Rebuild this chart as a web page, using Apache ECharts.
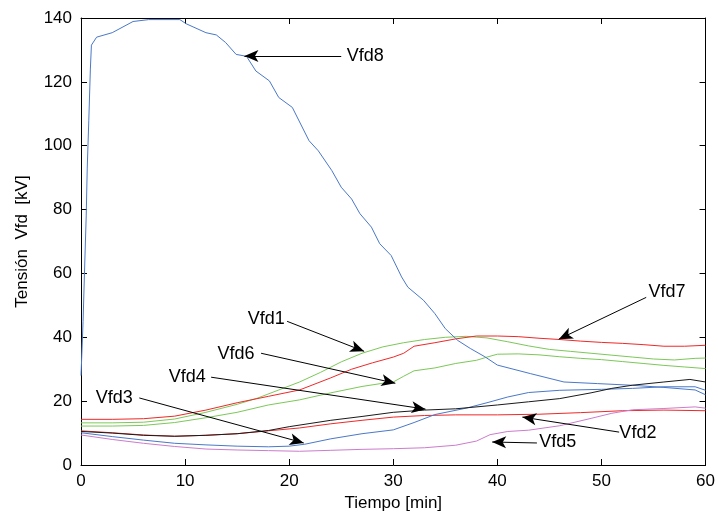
<!DOCTYPE html>
<html><head><meta charset="utf-8">
<script src="https://cdn.jsdelivr.net/npm/echarts@6/dist/echarts.min.js"></script>
<style>html,body{margin:0;padding:0;background:#fff}#c{width:718px;height:519px}</style>
</head><body><div id="c"></div>
<script>
// ---- data (time in min, tension in kV) ----
const xName = 'Tiempo [min]';
const yName = 'Tensión  Vfd  [kV]';

const tVfd1 = [0,3,6,9,12,15,17,19,21,23,25,27,29,31,33,35,37,39,41,43,45,47,49,51,53,55,57,59,60];
const vVfd1 = [13.2,13.2,13.4,14.4,16.5,19,21,23.5,26,29,32.3,35,37,38.3,39.3,40,40.3,39.8,38.6,37.3,36.2,35.6,35,34.4,33.8,33.2,32.9,33.4,33.5];

const tVfd2 = [0,3,6,9,12,15,18,21,24,27,30,33,36,40,44,48,52,56,60];
const vVfd2 = [10.7,10.1,9.4,9.0,9.3,9.8,10.7,11.6,12.9,14,15,15.5,15.7,15.7,15.9,16.4,17,17.2,17];

const tVfd3 = [0,3,6,9,12,15,18,20,21.5,24,27,30,32,34,37,39,41,43,46,50,53,56,59,60];
const vVfd3 = [10.1,8.9,7.8,6.8,6.3,5.9,5.7,5.9,6.5,8.2,9.8,11,13.3,15.8,17.8,19.5,21.3,22.7,23.4,23.7,24,24.5,24.5,23.4];

const tVfd4 = [0,3,6,9,12,15,18,20,22,24,27,30,33,36,40,43,46,49,51,53,56,58.5,60];
const vVfd4 = [10.5,10,9.3,9.0,9.3,9.8,10.8,12,13,14,15.2,16.5,17.2,17.6,18.8,19.8,20.8,22.6,24,25,26,26.8,26];

const tVfd5 = [0,3,6,9,12,15,18,21,24,27,30,33,36,38,39.3,41,43,46,49,51,53,56,59,60];
const vVfd5 = [9.4,8,6.8,5.8,5,4.7,4.5,4.3,4.6,4.9,5.1,5.4,6.2,7.5,9.5,10.5,10.9,12.3,14.6,16.2,17.3,17.7,18.2,17.8];

const tVfd6 = [0,3,6,9,12,15,18,21,24,27,29,30,31,32,34,36,38,39,40,42,44,46,48,50,52,54,56,58,60];
const vVfd6 = [12.2,12.2,12.4,13.3,14.8,16.5,18.8,20.4,22.6,24.6,25.6,26,27.8,29.5,30.4,31.8,32.8,33.8,34.7,34.8,34.5,33.9,33.4,33,32.4,31.8,31.2,30.7,30.2];

const tVfd7 = [0,3,6,9,12,15,18,21,24,26,28,30,31,32,34,36,38,40,42,44,46,48,50,52,54,56,58,60];
const vVfd7 = [14.3,14.3,14.5,15.3,17.2,19.5,21.5,23.5,27.3,30,32,33.8,35,37.2,38.3,39.5,40.4,40.4,40.2,39.7,39.3,38.8,38.4,38.1,37.7,37.2,37.2,37.5];

const tVfd8 = [0,0.2,0.35,0.5,0.6,0.75,0.9,1,1.5,3,5,6.5,9.5,10.1,12,13,13.9,14.9,15.9,16.8,18.1,19,20.3,21.9,22.8,24.1,25,26,26.8,27.9,28.7,29.8,30.8,31.4,32.9,34,35,36.2,37.4,38.8,40,43.2,46.4,49.6,52.8,56,59,60];
const vVfd8 = [28,45,62,78,93,108,124,131.5,134,135.4,138.9,139.5,139.5,138.2,135.4,134.7,132.3,128.6,128,123.4,120.3,115.1,112,101.6,98.4,92.2,87,83.3,78.7,74.5,69.3,65.6,58.9,55.7,51.6,47.4,42.7,39,36.5,33.9,31.3,28.6,26,25.5,25,24.3,23.5,22];

// annotation text anchors and arrows (start -> tip), in data units
const annotNames  = ['Vfd1','Vfd2','Vfd3','Vfd4','Vfd5','Vfd6','Vfd7','Vfd8'];
const annotText   = [[17.8,45.6],[53.5,10],[3.2,20.9],[10.2,27.5],[45.8,7.2],[14.9,34.7],[56.3,54.1],[27.3,128.1]];
const arrowStart  = [[19.8,45],[51.7,10.3],[5.6,21],[12.5,27.5],[43.8,6.9],[17.3,35],[54.3,52.5],[25,128.1]];
const arrowTip    = [[27.2,35.6],[42.4,15],[21.4,6.9],[33.1,17.5],[39.5,7.2],[30.2,25.6],[45.9,39.4],[15.7,128.1]];

const seriesT = [tVfd1,tVfd2,tVfd3,tVfd4,tVfd5,tVfd6,tVfd7,tVfd8];
const seriesV = [vVfd1,vVfd2,vVfd3,vVfd4,vVfd5,vVfd6,vVfd7,vVfd8];
const seriesColors = ['#7cc858','#f02828','#4a78c8','#1a1a1a','#cc7ccc','#7cc858','#f02828','#4a78c8'];

const FONT = '"Liberation Sans", Arial, sans-serif';

const series = annotNames.map((nm, i) => ({
  name: nm,
  type: 'line',
  data: seriesT[i].map((t, k) => [t, seriesV[i][k]]),
  showSymbol: false,
  symbol: 'none',
  lineStyle: { color: seriesColors[i], width: 1 },
  itemStyle: { color: seriesColors[i] },
  z: i === 3 ? 3 : 2,
  markLine: {
    silent: true,
    symbol: ['none', 'arrow'],
    symbolSize: [9, 14],
    lineStyle: { color: '#000', width: 1, type: 'solid' },
    label: { show: false },
    data: [[{ coord: arrowStart[i] }, { coord: arrowTip[i] }]]
  },
  markPoint: {
    silent: true,
    symbol: 'circle',
    symbolSize: 0,
    itemStyle: { color: 'rgba(0,0,0,0)' },
    label: { show: true, position: 'inside', formatter: nm, color: '#000', fontSize: 18, fontFamily: FONT },
    data: [{ coord: annotText[i] }]
  }
}));

const chart = echarts.init(document.getElementById('c'), null, { renderer: 'canvas' });
chart.setOption({
  animation: false,
  backgroundColor: '#fff',
  grid: { left: 81, right: 9, top: 18, bottom: 54 },
  xAxis: [{
    type: 'value', min: 0, max: 60, interval: 10,
    name: xName, nameLocation: 'middle', nameGap: 25,
    nameTextStyle: { color: '#000', fontSize: 17, fontFamily: FONT },
    axisLine: { show: true, lineStyle: { color: '#000', width: 1 } },
    axisTick: { show: true, inside: true, length: 6, lineStyle: { color: '#000' } },
    axisLabel: { color: '#000', fontSize: 17, fontFamily: FONT, margin: 8 },
    splitLine: { show: false }
  }, {
    type: 'value', min: 0, max: 60, interval: 10, position: 'top',
    axisLine: { show: true, onZero: false, lineStyle: { color: '#000', width: 1 } },
    axisTick: { show: true, inside: true, length: 6, lineStyle: { color: '#000' } },
    axisLabel: { show: false }, splitLine: { show: false }
  }],
  yAxis: [{
    type: 'value', min: 0, max: 140, interval: 20,
    name: yName, nameLocation: 'middle', nameGap: 50,
    nameTextStyle: { color: '#000', fontSize: 17, fontFamily: FONT },
    axisLine: { show: true, lineStyle: { color: '#000', width: 1 } },
    axisTick: { show: true, inside: true, length: 6, lineStyle: { color: '#000' } },
    axisLabel: { color: '#000', fontSize: 17, fontFamily: FONT, margin: 9 },
    splitLine: { show: false }
  }, {
    type: 'value', min: 0, max: 140, interval: 20, position: 'right',
    axisLine: { show: true, onZero: false, lineStyle: { color: '#000', width: 1 } },
    axisTick: { show: true, inside: true, length: 6, lineStyle: { color: '#000' } },
    axisLabel: { show: false }, splitLine: { show: false }
  }],
  series: series
});
</script>
</body></html>
